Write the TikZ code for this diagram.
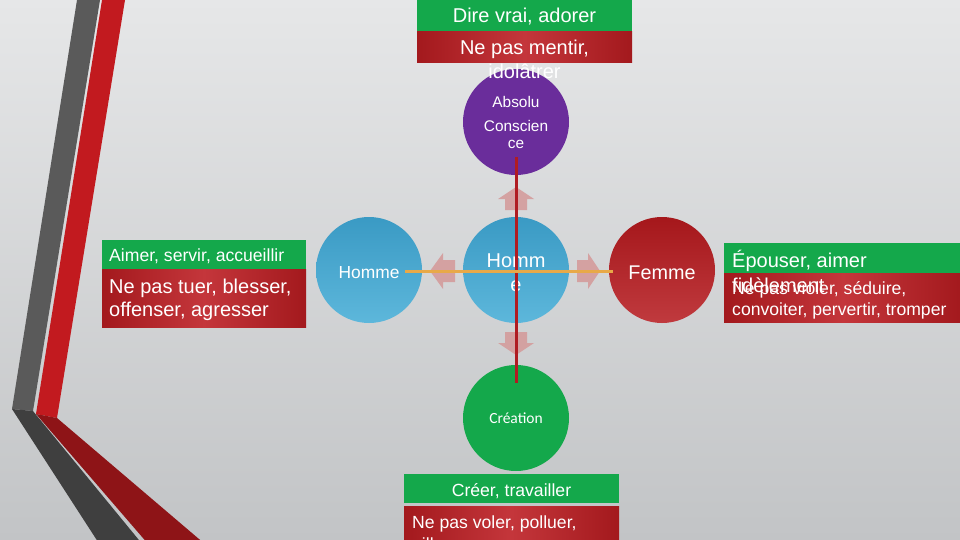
\documentclass[tikz,border=0pt]{standalone}
\usepackage{fontspec}
\setmainfont{Liberation Sans}
\newfontfamily\calfont{Carlito}
\definecolor{bgtop}{HTML}{E6E7E8}
\definecolor{bgmid}{HTML}{E9EAEB}
\definecolor{bgbot}{HTML}{C2C4C6}
\definecolor{grayA}{HTML}{5A5A5A}
\definecolor{grayB}{HTML}{3F3F3F}
\definecolor{redA}{HTML}{C21A1F}
\definecolor{redB}{HTML}{8E1417}
\definecolor{gbox}{HTML}{14A84B}
\definecolor{rdark}{HTML}{A3191D}
\definecolor{rlight}{HTML}{C4363B}
\definecolor{purp}{HTML}{6A2D9B}
\definecolor{blueT}{HTML}{3A9AC4}
\definecolor{blueB}{HTML}{5DB7DB}
\definecolor{femT}{HTML}{A5171B}
\definecolor{femB}{HTML}{C03A3E}
\definecolor{cgreen}{HTML}{14A84B}
\definecolor{arrowc}{HTML}{D49C9C}
\definecolor{vline}{HTML}{B01C22}
\definecolor{hline}{HTML}{E8A948}
\begin{document}
\begin{tikzpicture}[x=1pt,y=-1pt,
  greenbox/.style={fill=gbox,draw=none},
  redbox/.style={left color=rdark,right color=rdark,middle color=rlight,draw=none},
  circ/.style={circle,minimum size=106pt,inner sep=0pt,draw=none},
  txt/.style={text=white,inner sep=0pt,anchor=base},
  arr/.style={fill=arrowc,fill opacity=0.9,draw=none},
  fA/.style={font=\fontsize{20}{24}\selectfont},
  fB/.style={font=\fontsize{17.6}{22}\selectfont},
  fC/.style={font=\fontsize{15.4}{18}\selectfont}]
\useasboundingbox (0,0) rectangle (960,540);
\clip (0,0) rectangle (960,540);
% background
\shade[top color=bgtop,middle color=bgmid,bottom color=bgbot] (0,0) rectangle (960,540);
% stripes
\fill[grayA] (77,0)--(100,0)--(33,411)--(12,409)--cycle;
\fill[grayB] (12,409)--(33,411)--(143,545)--(100,545)--cycle;
\fill[redA] (102,0)--(125,0)--(57,418)--(36,414)--cycle;
\fill[redB] (36,414)--(57,418)--(206,545)--(149,545)--cycle;
% boxes
\fill[greenbox] (417,-2) rectangle (632,32);
\shade[redbox] (417,32) rectangle (632,63);
\fill[greenbox] (102,240) rectangle (306,269);
\shade[redbox] (102,269) rectangle (306,327);
\fill[greenbox] (724,243) rectangle (962,273);
\shade[redbox] (724,273) rectangle (962,322);
\fill[greenbox] (404,474) rectangle (619,503);
\shade[redbox] (404,506) rectangle (619,545);
% circles
\node[circ,fill=purp] (abs) at (516,122) {};
\node[circ,top color=blueT,bottom color=blueB] (hc) at (516,270) {};
\node[circ,top color=blueT,bottom color=blueB] (hl) at (369,270) {};
\node[circ,top color=femT,bottom color=femB] (fem) at (662,270) {};
\node[circ,fill=cgreen] (cre) at (516,418) {};
% block arrows
\fill[arr] (430,271)--(443,253)--(443,260)--(455,260)--(455,282)--(443,282)--(443,289)--cycle;
\fill[arr] (600,271)--(588,253)--(588,260)--(577,260)--(577,282)--(588,282)--(588,289)--cycle;
\fill[arr] (516,355)--(498,343)--(505,343)--(505,332)--(527,332)--(527,343)--(534,343)--cycle;
\fill[arr] (516,187)--(498,199)--(505,199)--(505,210)--(527,210)--(527,199)--(534,199)--cycle;
% circle texts
\node[txt,fC] (absT) at (516,108) {Absolu};
\node[txt,fC] (consT) at (516,132) {Conscien};
\node[txt,fC] (ceT) at (516,149) {ce};
\node[txt,font=\fontsize{17.4}{21}\selectfont] (hlT) at (369,278) {Homme};
\node[txt,fA] (hcT) at (516,267) {Homm};
\node[txt,fA] (hcT2) at (516,291) {e};
\node[txt,font=\fontsize{19.8}{24}\selectfont] (femT) at (662,279) {Femme};
\node[txt,font=\calfont\fontsize{15.5}{18}\selectfont] (creT) at (516,423) {Création};
% connector lines
\coordinate (vtop) at (516,157);
\coordinate (vbot) at (516,383);
\coordinate (hleft) at (405,271);
\coordinate (hright) at (613,271);
\draw[vline,line width=3pt] (vtop) -- (vbot);
\draw[hline,line width=3pt] (hleft) -- (hright);
% box texts
\node[txt,fA] (t1) at (524.5,23) {Dire vrai, adorer};
\node[txt,fA] (t2) at (524.5,55) {Ne pas mentir,};
\node[txt,fA] (t3) at (524.5,79) {idolâtrer};
\node[txt,fB,anchor=base west] (l1) at (109,261) {Aimer, servir, accueillir};
\node[txt,fA,anchor=base west] (l2) at (109,293) {Ne pas tuer, blesser,};
\node[txt,fA,anchor=base west] (l3) at (109,316) {offenser, agresser};
\node[txt,fA,anchor=base west] (r1) at (732,267) {Épouser, aimer};
\node[txt,fB,anchor=base west] (r3) at (732,294) {Ne pas violer, séduire,};
\node[txt,fA,anchor=base west] (r2) at (732,292) {fidèlement};
\node[txt,fB,anchor=base west] (r4) at (732,315) {convoiter, pervertir, tromper};
\node[txt,fB] (b1) at (511.5,496) {Créer, travailler};
\node[txt,fB,anchor=base west] (b2) at (412,528) {Ne pas voler, polluer,};
\node[txt,fB,anchor=base west] (b3) at (412,550) {piller};
\end{tikzpicture}
\end{document}
